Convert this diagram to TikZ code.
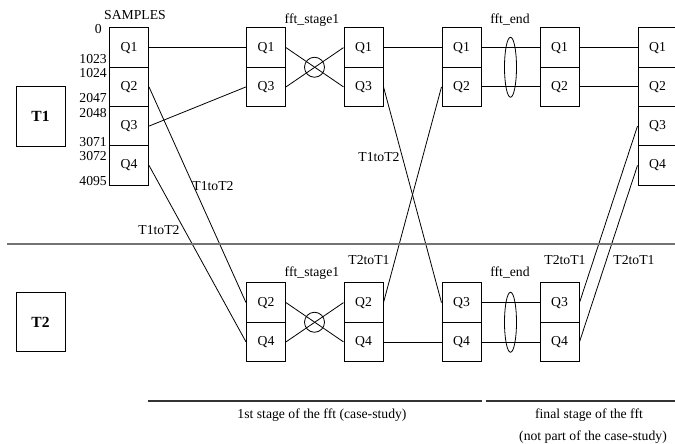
\documentclass[tikz,border=0pt]{standalone}
\usepackage{fontspec}
\setmainfont{Liberation Serif}
\begin{document}
\begin{tikzpicture}[x=1pt,y=-1pt,
  qbox/.style={draw,line width=1pt,rectangle,minimum width=39pt,minimum height=39.25pt,inner sep=0pt,font=\fontsize{13.7}{15}\selectfont},
  tbox/.style={draw,line width=1pt,rectangle,minimum width=49pt,minimum height=59.5pt,inner sep=0pt,font=\fontsize{15.5}{17}\selectfont\bfseries},
  lbl/.style={inner sep=0pt,font=\fontsize{13.7}{15}\selectfont},
  conn/.style={line width=0.8pt},
  sep/.style={line width=2pt,color=black!55},
  rule/.style={line width=1.3pt,color=black!80}]
\useasboundingbox (0,0) rectangle (675,444);
\clip (0,0) rectangle (675,444);
% T boxes
\node[tbox] (T1) at (40.5,116.5) {T1};
\node[tbox] (T2) at (40.5,322) {T2};
% samples column
\node[qbox] (sQ1) at (129,47.6) {Q1};
\node[qbox] (sQ2) at (129,86.9) {Q2};
\node[qbox] (sQ3) at (129,126.1) {Q3};
\node[qbox] (sQ4) at (129,165.4) {Q4};
\node[lbl] (samples) at (135,15) {SAMPLES};
\node[lbl,anchor=east] (n0) at (102,29) {0};
\node[lbl,anchor=east] (n1023) at (107,59) {1023};
\node[lbl,anchor=east] (n1024) at (107,73) {1024};
\node[lbl,anchor=east] (n2047) at (107,98) {2047};
\node[lbl,anchor=east] (n2048) at (107,113) {2048};
\node[lbl,anchor=east] (n3071) at (107,142) {3071};
\node[lbl,anchor=east] (n3072) at (107,156) {3072};
\node[lbl,anchor=east] (n4095) at (107,181) {4095};
% top stage columns
\node[qbox] (a1Q1) at (266,47.6) {Q1};
\node[qbox] (a1Q3) at (266,86.9) {Q3};
\node[qbox] (a2Q1) at (363.5,47.6) {Q1};
\node[qbox] (a2Q3) at (363.5,86.9) {Q3};
\node[qbox] (a3Q1) at (461.5,47.6) {Q1};
\node[qbox] (a3Q2) at (461.5,86.9) {Q2};
\node[qbox] (a4Q1) at (559.5,47.6) {Q1};
\node[qbox] (a4Q2) at (559.5,86.9) {Q2};
\node[qbox] (lQ1) at (657.5,47.6) {Q1};
\node[qbox] (lQ2) at (657.5,86.9) {Q2};
\node[qbox] (lQ3) at (657.5,126.1) {Q3};
\node[qbox] (lQ4) at (657.5,165.4) {Q4};
% bottom stage columns
\node[qbox] (b1Q2) at (266,302.6) {Q2};
\node[qbox] (b1Q4) at (266,341.9) {Q4};
\node[qbox] (b2Q2) at (363.5,302.6) {Q2};
\node[qbox] (b2Q4) at (363.5,341.9) {Q4};
\node[qbox] (b3Q3) at (461.5,302.6) {Q3};
\node[qbox] (b3Q4) at (461.5,341.9) {Q4};
\node[qbox] (b4Q3) at (559.5,302.6) {Q3};
\node[qbox] (b4Q4) at (559.5,341.9) {Q4};
% labels
\node[lbl] (fs1a) at (312,20) {fft\_stage1};
\node[lbl] (fea) at (510,20) {fft\_end};
\node[lbl] (fs1b) at (312,273) {fft\_stage1};
\node[lbl] (feb) at (510,273) {fft\_end};
\node[lbl] (l1) at (213,186) {T1toT2};
\node[lbl] (l2) at (159,230) {T1toT2};
\node[lbl] (l3) at (379,157) {T1toT2};
\node[lbl] (l4) at (369,260) {T2toT1};
\node[lbl] (l5) at (565,260) {T2toT1};
\node[lbl] (l6) at (634,260) {T2toT1};
% connectors
\draw[conn] (sQ1.east) -- (a1Q1.west);
\draw[conn] (sQ3.east) -- (a1Q3.west);
\draw[conn] (sQ2.east) -- (b1Q2.west);
\draw[conn] (sQ4.east) -- (b1Q4.west);
\draw[conn] (a1Q1.east) -- (a2Q3.west);
\draw[conn] (a1Q3.east) -- (a2Q1.west);
\draw[conn] (b1Q2.east) -- (b2Q4.west);
\draw[conn] (b1Q4.east) -- (b2Q2.west);
\draw[conn] (a2Q1.east) -- (a3Q1.west);
\draw[conn] (a2Q3.east) -- (b3Q3.west);
\draw[conn] (b2Q2.east) -- (a3Q2.west);
\draw[conn] (b2Q4.east) -- (b3Q4.west);
\draw[conn] (a3Q1.east) -- (a4Q1.west);
\draw[conn] (a3Q2.east) -- (a4Q2.west);
\draw[conn] (b3Q3.east) -- (b4Q3.west);
\draw[conn] (b3Q4.east) -- (b4Q4.west);
\draw[conn] (a4Q1.east) -- (lQ1.west);
\draw[conn] (a4Q2.east) -- (lQ2.west);
\draw[conn] (b4Q3.east) -- (lQ3.west);
\draw[conn] (b4Q4.east) -- (lQ4.west);
% crossing circles and ellipses
\draw[conn] (314.5,67.25) circle (10);
\draw[conn] (314.5,322.25) circle (10);
\draw[conn] (510.5,67.25) ellipse [x radius=6, y radius=30];
\draw[conn] (510.5,322.25) ellipse [x radius=6, y radius=30];
% separator and rules
\draw[sep] (7,244) -- (675,244);
\draw[rule] (148,401) -- (482,401);
\draw[rule] (486,401) -- (675,401);
\node[lbl] (c1) at (322,415) {1st stage of the fft (case-study)};
\node[lbl] (c2) at (589,415) {final stage of the fft};
\node[lbl] (c3) at (593,437) {(not part of the case-study)};
\end{tikzpicture}
\end{document}
